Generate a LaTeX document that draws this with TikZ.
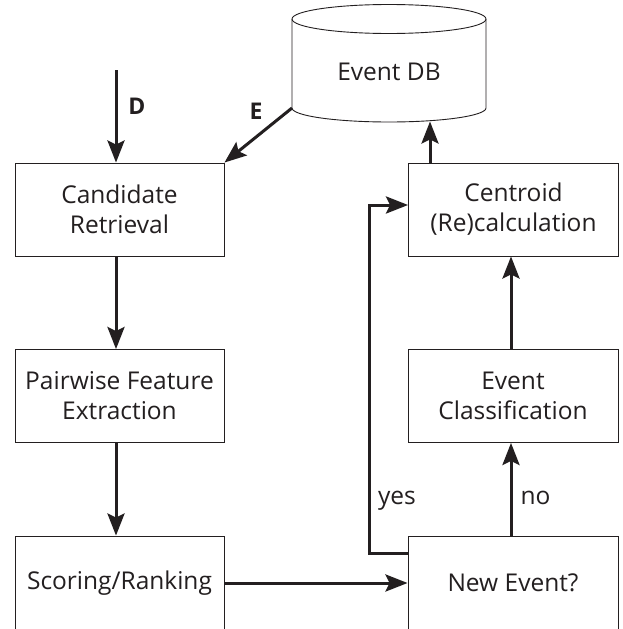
\documentclass[tikz,border=0pt]{standalone}
\usepackage{fontspec}
\setmainfont{Open Sans}
\usetikzlibrary{arrows.meta,calc}
\definecolor{ink}{HTML}{231F20}
\tikzset{
  box/.style={draw=ink, line width=0.9pt, minimum width=209pt, minimum height=93pt,
    align=center, inner sep=0pt, text=ink, font=\fontsize{24.5}{30}\selectfont},
  arr/.style={draw=ink, line width=3pt, -{Stealth[length=22pt,width=17pt,inset=4pt]}},
  lbl/.style={text=ink, font=\fontsize{24.5}{30}\selectfont, anchor=base, inner sep=0pt},
  blbl/.style={text=ink, font=\fontsize{23}{28}\selectfont\bfseries, anchor=base, inner sep=0pt},
  cyl/.style={draw=ink, line width=0.9pt}
}
\begin{document}
\begin{tikzpicture}[x=1pt,y=1pt]
\useasboundingbox (0,0) rectangle (623,-629);
\clip (0,0) rectangle (623,-629);
\fill[white] (0,0) rectangle (623,-629);
% cylinder
\draw[cyl, fill=white] (292,-19) -- (292,-108) arc[start angle=180,end angle=360,x radius=97pt,y radius=14pt] -- (486,-19);
\draw[cyl] (389,-19) ellipse [x radius=97pt, y radius=14.5pt];
\node[lbl] (db) at (389,-80) {Event DB};
\coordinate (dbE) at (292,-108);
\coordinate (dbIn) at (430,-121.5);
% boxes
\node[box] (cand) at (119.5,-209.5) {Candidate\\Retrieval};
\node[box] (pair) at (119.5,-396) {Pairwise Feature\\Extraction};
\node[box, minimum height=94pt] (score) at (119.5,-583) {Scoring/Ranking};
\node[box, minimum width=210pt] (cent) at (513.5,-209.5) {Centroid\\(Re)calculation};
\node[box, minimum width=210pt] (cls) at (513,-396) {Event\\Classification};
\node[box, minimum width=210pt, minimum height=94pt] (newev) at (513,-583) {New Event?};
% helper coordinates
\coordinate (dstart) at (116,-70);
\coordinate (rcol) at (511,0);
\coordinate (ystart) at (408,-553);
\coordinate (ycorner) at (369,-205);
% arrows
\draw[arr] (dstart) -- (cand.north -| dstart);
\node[blbl] (dl) at (137,-114) {D};
\draw[arr] (dbE) -- (cand.north east);
\node[blbl] (el) at (256,-119) {E};
\draw[arr] (cand.south -| dstart) -- (pair.north -| dstart);
\draw[arr] (pair.south -| dstart) -- (score.north -| dstart);
\draw[arr] (score.east) -- (newev.west);
\draw[arr] (newev.north -| rcol) -- (cls.south -| rcol);
\draw[arr] (cls.north -| rcol) -- (cent.south -| rcol);
\draw[arr] (cent.north -| dbIn) -- (dbIn);
\draw[arr, line join=miter] (ystart) -| (ycorner) -- (cent.west |- ycorner);
\node[lbl] (yes) at (397,-504) {yes};
\node[lbl] (no) at (535.5,-504) {no};
\end{tikzpicture}
\end{document}
